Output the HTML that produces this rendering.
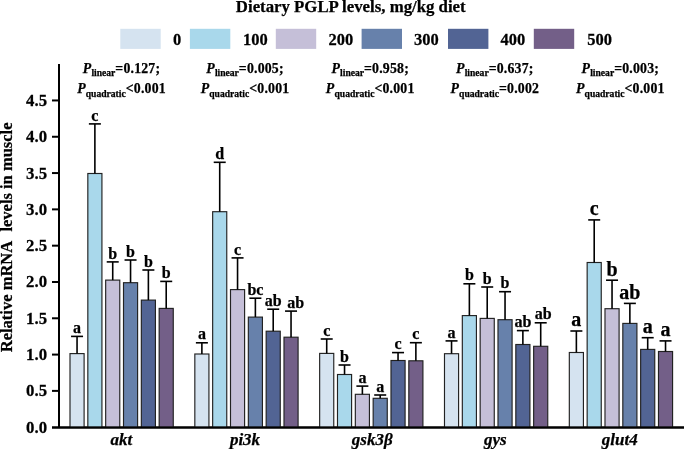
<!DOCTYPE html>
<html><head><meta charset="utf-8"><style>
html,body{margin:0;padding:0;background:#fff;width:685px;height:449px;overflow:hidden}
svg text{font-family:"Liberation Serif", serif;fill:#000;stroke:#000;stroke-width:0.25px}
</style></head><body>
<svg width="685" height="449" viewBox="0 0 685 449" style="display:block;will-change:transform">
<text x="350.75" y="12.2" text-anchor="middle" font-size="16.8" font-weight="bold">Dietary PGLP levels, mg/kg diet</text>
<rect x="120.3" y="28.8" width="40.4" height="20.1" fill="#D5E3F0"/>
<text transform="translate(172.9,44.7) scale(1,1.06)" font-size="16.5" font-weight="bold">0</text>
<rect x="189.9" y="28.8" width="40.4" height="20.1" fill="#A9D8EB"/>
<text transform="translate(243.0,44.7) scale(1,1.06)" font-size="16.5" font-weight="bold">100</text>
<rect x="275.8" y="28.8" width="40.4" height="20.1" fill="#C5BFD8"/>
<text transform="translate(328.6,44.7) scale(1,1.06)" font-size="16.5" font-weight="bold">200</text>
<rect x="361.6" y="28.8" width="40.4" height="20.1" fill="#6781AB"/>
<text transform="translate(414.1,44.7) scale(1,1.06)" font-size="16.5" font-weight="bold">300</text>
<rect x="448.0" y="28.8" width="40.4" height="20.1" fill="#526494"/>
<text transform="translate(500.5,44.7) scale(1,1.06)" font-size="16.5" font-weight="bold">400</text>
<rect x="533.8" y="28.8" width="40.4" height="20.1" fill="#735F88"/>
<text transform="translate(587.3,44.7) scale(1,1.06)" font-size="16.5" font-weight="bold">500</text>
<text x="121.5" y="72.5" text-anchor="middle" font-size="13.8" font-weight="bold" letter-spacing="0.2"><tspan font-style="italic">P</tspan><tspan font-size="9.6" letter-spacing="0" dy="3.6">linear</tspan><tspan dy="-3.6">=0.127;</tspan></text>
<text x="121.5" y="93.3" text-anchor="middle" font-size="13.8" font-weight="bold" letter-spacing="0.2"><tspan font-style="italic">P</tspan><tspan font-size="9.6" letter-spacing="0" dy="3.6">quadratic</tspan><tspan dy="-3.6"><0.001</tspan></text>
<text x="245.0" y="72.5" text-anchor="middle" font-size="13.8" font-weight="bold" letter-spacing="0.2"><tspan font-style="italic">P</tspan><tspan font-size="9.6" letter-spacing="0" dy="3.6">linear</tspan><tspan dy="-3.6">=0.005;</tspan></text>
<text x="245.0" y="93.3" text-anchor="middle" font-size="13.8" font-weight="bold" letter-spacing="0.2"><tspan font-style="italic">P</tspan><tspan font-size="9.6" letter-spacing="0" dy="3.6">quadratic</tspan><tspan dy="-3.6"><0.001</tspan></text>
<text x="370.2" y="72.5" text-anchor="middle" font-size="13.8" font-weight="bold" letter-spacing="0.2"><tspan font-style="italic">P</tspan><tspan font-size="9.6" letter-spacing="0" dy="3.6">linear</tspan><tspan dy="-3.6">=0.958;</tspan></text>
<text x="370.2" y="93.3" text-anchor="middle" font-size="13.8" font-weight="bold" letter-spacing="0.2"><tspan font-style="italic">P</tspan><tspan font-size="9.6" letter-spacing="0" dy="3.6">quadratic</tspan><tspan dy="-3.6"><0.001</tspan></text>
<text x="494.8" y="72.5" text-anchor="middle" font-size="13.8" font-weight="bold" letter-spacing="0.2"><tspan font-style="italic">P</tspan><tspan font-size="9.6" letter-spacing="0" dy="3.6">linear</tspan><tspan dy="-3.6">=0.637;</tspan></text>
<text x="494.8" y="93.3" text-anchor="middle" font-size="13.8" font-weight="bold" letter-spacing="0.2"><tspan font-style="italic">P</tspan><tspan font-size="9.6" letter-spacing="0" dy="3.6">quadratic</tspan><tspan dy="-3.6">=0.002</tspan></text>
<text x="620.3" y="72.5" text-anchor="middle" font-size="13.8" font-weight="bold" letter-spacing="0.2"><tspan font-style="italic">P</tspan><tspan font-size="9.6" letter-spacing="0" dy="3.6">linear</tspan><tspan dy="-3.6">=0.003;</tspan></text>
<text x="620.3" y="93.3" text-anchor="middle" font-size="13.8" font-weight="bold" letter-spacing="0.2"><tspan font-style="italic">P</tspan><tspan font-size="9.6" letter-spacing="0" dy="3.6">quadratic</tspan><tspan dy="-3.6"><0.001</tspan></text>
<g stroke="#000" stroke-width="2" fill="none">
<line x1="59" y1="64" x2="59" y2="428"/>
<line x1="52" y1="427.45" x2="684" y2="427.45"/>
<line x1="52" y1="390.89" x2="59" y2="390.89"/>
<line x1="52" y1="354.59" x2="59" y2="354.59"/>
<line x1="52" y1="318.28" x2="59" y2="318.28"/>
<line x1="52" y1="281.98" x2="59" y2="281.98"/>
<line x1="52" y1="245.67" x2="59" y2="245.67"/>
<line x1="52" y1="209.37" x2="59" y2="209.37"/>
<line x1="52" y1="173.06" x2="59" y2="173.06"/>
<line x1="52" y1="136.76" x2="59" y2="136.76"/>
<line x1="52" y1="100.45" x2="59" y2="100.45"/>
</g>
<text transform="translate(47.1,432.70) scale(1,1.055)" text-anchor="end" font-size="16.8" font-weight="bold">0.0</text>
<text transform="translate(47.1,396.39) scale(1,1.055)" text-anchor="end" font-size="16.8" font-weight="bold">0.5</text>
<text transform="translate(47.1,360.09) scale(1,1.055)" text-anchor="end" font-size="16.8" font-weight="bold">1.0</text>
<text transform="translate(47.1,323.78) scale(1,1.055)" text-anchor="end" font-size="16.8" font-weight="bold">1.5</text>
<text transform="translate(47.1,287.48) scale(1,1.055)" text-anchor="end" font-size="16.8" font-weight="bold">2.0</text>
<text transform="translate(47.1,251.17) scale(1,1.055)" text-anchor="end" font-size="16.8" font-weight="bold">2.5</text>
<text transform="translate(47.1,214.87) scale(1,1.055)" text-anchor="end" font-size="16.8" font-weight="bold">3.0</text>
<text transform="translate(47.1,178.56) scale(1,1.055)" text-anchor="end" font-size="16.8" font-weight="bold">3.5</text>
<text transform="translate(47.1,142.26) scale(1,1.055)" text-anchor="end" font-size="16.8" font-weight="bold">4.0</text>
<text transform="translate(47.1,105.95) scale(1,1.055)" text-anchor="end" font-size="16.8" font-weight="bold">4.5</text>
<text transform="translate(12.2,352.2) rotate(-90)" text-anchor="start" font-size="16.5" font-weight="bold">Relative mRNA</text>
<text transform="translate(12.2,122.5) rotate(-90)" text-anchor="end" font-size="16.5" font-weight="bold">levels in muscle</text>
<rect x="70.00" y="353.60" width="14.10" height="73.60" fill="#D5E3F0" stroke="#222" stroke-width="1.15"/>
<line x1="77.05" y1="353.60" x2="77.05" y2="336.40" stroke="#000" stroke-width="1.6"/>
<line x1="71.05" y1="336.40" x2="83.05" y2="336.40" stroke="#000" stroke-width="1.6"/>
<text x="77.05" y="333.00" text-anchor="middle" font-size="16" font-weight="bold">a</text>
<rect x="87.83" y="173.50" width="14.10" height="253.70" fill="#A9D8EB" stroke="#222" stroke-width="1.15"/>
<line x1="94.88" y1="173.50" x2="94.88" y2="123.90" stroke="#000" stroke-width="1.6"/>
<line x1="88.88" y1="123.90" x2="100.88" y2="123.90" stroke="#000" stroke-width="1.6"/>
<text x="94.88" y="120.50" text-anchor="middle" font-size="16" font-weight="bold">c</text>
<rect x="105.67" y="280.10" width="14.10" height="147.10" fill="#C5BFD8" stroke="#222" stroke-width="1.15"/>
<line x1="112.72" y1="280.10" x2="112.72" y2="261.90" stroke="#000" stroke-width="1.6"/>
<line x1="106.72" y1="261.90" x2="118.72" y2="261.90" stroke="#000" stroke-width="1.6"/>
<text x="112.72" y="258.50" text-anchor="middle" font-size="16" font-weight="bold">b</text>
<rect x="123.50" y="282.70" width="14.10" height="144.50" fill="#6781AB" stroke="#222" stroke-width="1.15"/>
<line x1="130.55" y1="282.70" x2="130.55" y2="260.00" stroke="#000" stroke-width="1.6"/>
<line x1="124.55" y1="260.00" x2="136.55" y2="260.00" stroke="#000" stroke-width="1.6"/>
<text x="130.55" y="256.60" text-anchor="middle" font-size="16" font-weight="bold">b</text>
<rect x="141.33" y="300.10" width="14.10" height="127.10" fill="#526494" stroke="#222" stroke-width="1.15"/>
<line x1="148.38" y1="300.10" x2="148.38" y2="270.00" stroke="#000" stroke-width="1.6"/>
<line x1="142.38" y1="270.00" x2="154.38" y2="270.00" stroke="#000" stroke-width="1.6"/>
<text x="148.38" y="266.60" text-anchor="middle" font-size="16" font-weight="bold">b</text>
<rect x="159.16" y="308.40" width="14.10" height="118.80" fill="#735F88" stroke="#222" stroke-width="1.15"/>
<line x1="166.21" y1="308.40" x2="166.21" y2="281.40" stroke="#000" stroke-width="1.6"/>
<line x1="160.21" y1="281.40" x2="172.21" y2="281.40" stroke="#000" stroke-width="1.6"/>
<text x="166.21" y="278.00" text-anchor="middle" font-size="16" font-weight="bold">b</text>
<rect x="194.83" y="354.00" width="14.10" height="73.20" fill="#D5E3F0" stroke="#222" stroke-width="1.15"/>
<line x1="201.88" y1="354.00" x2="201.88" y2="342.80" stroke="#000" stroke-width="1.6"/>
<line x1="195.88" y1="342.80" x2="207.88" y2="342.80" stroke="#000" stroke-width="1.6"/>
<text x="201.88" y="339.40" text-anchor="middle" font-size="16" font-weight="bold">a</text>
<rect x="212.66" y="211.70" width="14.10" height="215.50" fill="#A9D8EB" stroke="#222" stroke-width="1.15"/>
<line x1="219.71" y1="211.70" x2="219.71" y2="162.30" stroke="#000" stroke-width="1.6"/>
<line x1="213.71" y1="162.30" x2="225.71" y2="162.30" stroke="#000" stroke-width="1.6"/>
<text x="219.71" y="158.90" text-anchor="middle" font-size="16" font-weight="bold">d</text>
<rect x="230.50" y="289.60" width="14.10" height="137.60" fill="#C5BFD8" stroke="#222" stroke-width="1.15"/>
<line x1="237.55" y1="289.60" x2="237.55" y2="257.90" stroke="#000" stroke-width="1.6"/>
<line x1="231.55" y1="257.90" x2="243.55" y2="257.90" stroke="#000" stroke-width="1.6"/>
<text x="237.55" y="254.50" text-anchor="middle" font-size="16" font-weight="bold">c</text>
<rect x="248.33" y="317.10" width="14.10" height="110.10" fill="#6781AB" stroke="#222" stroke-width="1.15"/>
<line x1="255.38" y1="317.10" x2="255.38" y2="298.20" stroke="#000" stroke-width="1.6"/>
<line x1="249.38" y1="298.20" x2="261.38" y2="298.20" stroke="#000" stroke-width="1.6"/>
<text x="255.38" y="294.80" text-anchor="middle" font-size="16" font-weight="bold">bc</text>
<rect x="266.16" y="331.20" width="14.10" height="96.00" fill="#526494" stroke="#222" stroke-width="1.15"/>
<line x1="273.21" y1="331.20" x2="273.21" y2="309.20" stroke="#000" stroke-width="1.6"/>
<line x1="267.21" y1="309.20" x2="279.21" y2="309.20" stroke="#000" stroke-width="1.6"/>
<text x="273.21" y="305.80" text-anchor="middle" font-size="16" font-weight="bold">ab</text>
<rect x="283.99" y="337.20" width="14.10" height="90.00" fill="#735F88" stroke="#222" stroke-width="1.15"/>
<line x1="291.04" y1="337.20" x2="291.04" y2="311.10" stroke="#000" stroke-width="1.6"/>
<line x1="285.04" y1="311.10" x2="297.04" y2="311.10" stroke="#000" stroke-width="1.6"/>
<text x="295.74" y="307.70" text-anchor="middle" font-size="16" font-weight="bold">ab</text>
<rect x="319.66" y="353.40" width="14.10" height="73.80" fill="#D5E3F0" stroke="#222" stroke-width="1.15"/>
<line x1="326.71" y1="353.40" x2="326.71" y2="339.00" stroke="#000" stroke-width="1.6"/>
<line x1="320.71" y1="339.00" x2="332.71" y2="339.00" stroke="#000" stroke-width="1.6"/>
<text x="326.71" y="335.60" text-anchor="middle" font-size="16" font-weight="bold">c</text>
<rect x="337.49" y="374.50" width="14.10" height="52.70" fill="#A9D8EB" stroke="#222" stroke-width="1.15"/>
<line x1="344.54" y1="374.50" x2="344.54" y2="365.00" stroke="#000" stroke-width="1.6"/>
<line x1="338.54" y1="365.00" x2="350.54" y2="365.00" stroke="#000" stroke-width="1.6"/>
<text x="344.54" y="361.60" text-anchor="middle" font-size="16" font-weight="bold">b</text>
<rect x="355.33" y="394.30" width="14.10" height="32.90" fill="#C5BFD8" stroke="#222" stroke-width="1.15"/>
<line x1="362.38" y1="394.30" x2="362.38" y2="386.10" stroke="#000" stroke-width="1.6"/>
<line x1="356.38" y1="386.10" x2="368.38" y2="386.10" stroke="#000" stroke-width="1.6"/>
<text x="362.38" y="382.70" text-anchor="middle" font-size="16" font-weight="bold">a</text>
<rect x="373.16" y="398.30" width="14.10" height="28.90" fill="#6781AB" stroke="#222" stroke-width="1.15"/>
<line x1="380.21" y1="398.30" x2="380.21" y2="395.00" stroke="#000" stroke-width="1.6"/>
<line x1="374.21" y1="395.00" x2="386.21" y2="395.00" stroke="#000" stroke-width="1.6"/>
<text x="380.21" y="391.60" text-anchor="middle" font-size="16" font-weight="bold">a</text>
<rect x="390.99" y="360.50" width="14.10" height="66.70" fill="#526494" stroke="#222" stroke-width="1.15"/>
<line x1="398.04" y1="360.50" x2="398.04" y2="352.60" stroke="#000" stroke-width="1.6"/>
<line x1="392.04" y1="352.60" x2="404.04" y2="352.60" stroke="#000" stroke-width="1.6"/>
<text x="398.04" y="349.20" text-anchor="middle" font-size="16" font-weight="bold">c</text>
<rect x="408.82" y="360.80" width="14.10" height="66.40" fill="#735F88" stroke="#222" stroke-width="1.15"/>
<line x1="415.87" y1="360.80" x2="415.87" y2="342.70" stroke="#000" stroke-width="1.6"/>
<line x1="409.87" y1="342.70" x2="421.87" y2="342.70" stroke="#000" stroke-width="1.6"/>
<text x="415.87" y="339.30" text-anchor="middle" font-size="16" font-weight="bold">c</text>
<rect x="444.49" y="353.70" width="14.10" height="73.50" fill="#D5E3F0" stroke="#222" stroke-width="1.15"/>
<line x1="451.54" y1="353.70" x2="451.54" y2="340.90" stroke="#000" stroke-width="1.6"/>
<line x1="445.54" y1="340.90" x2="457.54" y2="340.90" stroke="#000" stroke-width="1.6"/>
<text x="451.54" y="337.50" text-anchor="middle" font-size="16" font-weight="bold">a</text>
<rect x="462.32" y="315.60" width="14.10" height="111.60" fill="#A9D8EB" stroke="#222" stroke-width="1.15"/>
<line x1="469.37" y1="315.60" x2="469.37" y2="283.80" stroke="#000" stroke-width="1.6"/>
<line x1="463.37" y1="283.80" x2="475.37" y2="283.80" stroke="#000" stroke-width="1.6"/>
<text x="469.37" y="280.40" text-anchor="middle" font-size="16" font-weight="bold">b</text>
<rect x="480.16" y="318.40" width="14.10" height="108.80" fill="#C5BFD8" stroke="#222" stroke-width="1.15"/>
<line x1="487.21" y1="318.40" x2="487.21" y2="287.00" stroke="#000" stroke-width="1.6"/>
<line x1="481.21" y1="287.00" x2="493.21" y2="287.00" stroke="#000" stroke-width="1.6"/>
<text x="487.21" y="283.60" text-anchor="middle" font-size="16" font-weight="bold">b</text>
<rect x="497.99" y="319.70" width="14.10" height="107.50" fill="#6781AB" stroke="#222" stroke-width="1.15"/>
<line x1="505.04" y1="319.70" x2="505.04" y2="291.70" stroke="#000" stroke-width="1.6"/>
<line x1="499.04" y1="291.70" x2="511.04" y2="291.70" stroke="#000" stroke-width="1.6"/>
<text x="505.04" y="288.30" text-anchor="middle" font-size="16" font-weight="bold">b</text>
<rect x="515.82" y="344.50" width="14.10" height="82.70" fill="#526494" stroke="#222" stroke-width="1.15"/>
<line x1="522.87" y1="344.50" x2="522.87" y2="330.60" stroke="#000" stroke-width="1.6"/>
<line x1="516.87" y1="330.60" x2="528.87" y2="330.60" stroke="#000" stroke-width="1.6"/>
<text x="522.87" y="327.20" text-anchor="middle" font-size="16" font-weight="bold">ab</text>
<rect x="533.65" y="346.30" width="14.10" height="80.90" fill="#735F88" stroke="#222" stroke-width="1.15"/>
<line x1="540.70" y1="346.30" x2="540.70" y2="322.80" stroke="#000" stroke-width="1.6"/>
<line x1="534.70" y1="322.80" x2="546.70" y2="322.80" stroke="#000" stroke-width="1.6"/>
<text x="543.30" y="319.40" text-anchor="middle" font-size="16" font-weight="bold">ab</text>
<rect x="569.32" y="352.50" width="14.10" height="74.70" fill="#D5E3F0" stroke="#222" stroke-width="1.15"/>
<line x1="576.37" y1="352.50" x2="576.37" y2="331.00" stroke="#000" stroke-width="1.6"/>
<line x1="570.37" y1="331.00" x2="582.37" y2="331.00" stroke="#000" stroke-width="1.6"/>
<text x="576.37" y="326.40" text-anchor="middle" font-size="20" font-weight="bold">a</text>
<rect x="587.15" y="262.50" width="14.10" height="164.70" fill="#A9D8EB" stroke="#222" stroke-width="1.15"/>
<line x1="594.20" y1="262.50" x2="594.20" y2="219.90" stroke="#000" stroke-width="1.6"/>
<line x1="588.20" y1="219.90" x2="600.20" y2="219.90" stroke="#000" stroke-width="1.6"/>
<text x="594.20" y="215.30" text-anchor="middle" font-size="20" font-weight="bold">c</text>
<rect x="604.99" y="308.70" width="14.10" height="118.50" fill="#C5BFD8" stroke="#222" stroke-width="1.15"/>
<line x1="612.04" y1="308.70" x2="612.04" y2="280.20" stroke="#000" stroke-width="1.6"/>
<line x1="606.04" y1="280.20" x2="618.04" y2="280.20" stroke="#000" stroke-width="1.6"/>
<text x="612.04" y="275.60" text-anchor="middle" font-size="20" font-weight="bold">b</text>
<rect x="622.82" y="323.40" width="14.10" height="103.80" fill="#6781AB" stroke="#222" stroke-width="1.15"/>
<line x1="629.87" y1="323.40" x2="629.87" y2="303.40" stroke="#000" stroke-width="1.6"/>
<line x1="623.87" y1="303.40" x2="635.87" y2="303.40" stroke="#000" stroke-width="1.6"/>
<text x="629.87" y="298.80" text-anchor="middle" font-size="20" font-weight="bold">ab</text>
<rect x="640.65" y="349.40" width="14.10" height="77.80" fill="#526494" stroke="#222" stroke-width="1.15"/>
<line x1="647.70" y1="349.40" x2="647.70" y2="337.70" stroke="#000" stroke-width="1.6"/>
<line x1="641.70" y1="337.70" x2="653.70" y2="337.70" stroke="#000" stroke-width="1.6"/>
<text x="647.70" y="333.10" text-anchor="middle" font-size="20" font-weight="bold">a</text>
<rect x="658.48" y="351.50" width="14.10" height="75.70" fill="#735F88" stroke="#222" stroke-width="1.15"/>
<line x1="665.53" y1="351.50" x2="665.53" y2="340.90" stroke="#000" stroke-width="1.6"/>
<line x1="659.53" y1="340.90" x2="671.53" y2="340.90" stroke="#000" stroke-width="1.6"/>
<text x="665.53" y="336.30" text-anchor="middle" font-size="20" font-weight="bold">a</text>
<line x1="52" y1="427.45" x2="684" y2="427.45" stroke="#000" stroke-width="2"/>
<text x="121.4" y="444.5" text-anchor="middle" font-size="17" font-weight="bold" font-style="italic">akt</text>
<text x="245.0" y="444.5" text-anchor="middle" font-size="17" font-weight="bold" font-style="italic">pi3k</text>
<text x="372.2" y="444.5" text-anchor="middle" font-size="17" font-weight="bold" font-style="italic">gsk3β</text>
<text x="495.4" y="444.5" text-anchor="middle" font-size="17" font-weight="bold" font-style="italic">gys</text>
<text x="619.8" y="444.5" text-anchor="middle" font-size="17" font-weight="bold" font-style="italic">glut4</text>
</svg>
</body></html>
